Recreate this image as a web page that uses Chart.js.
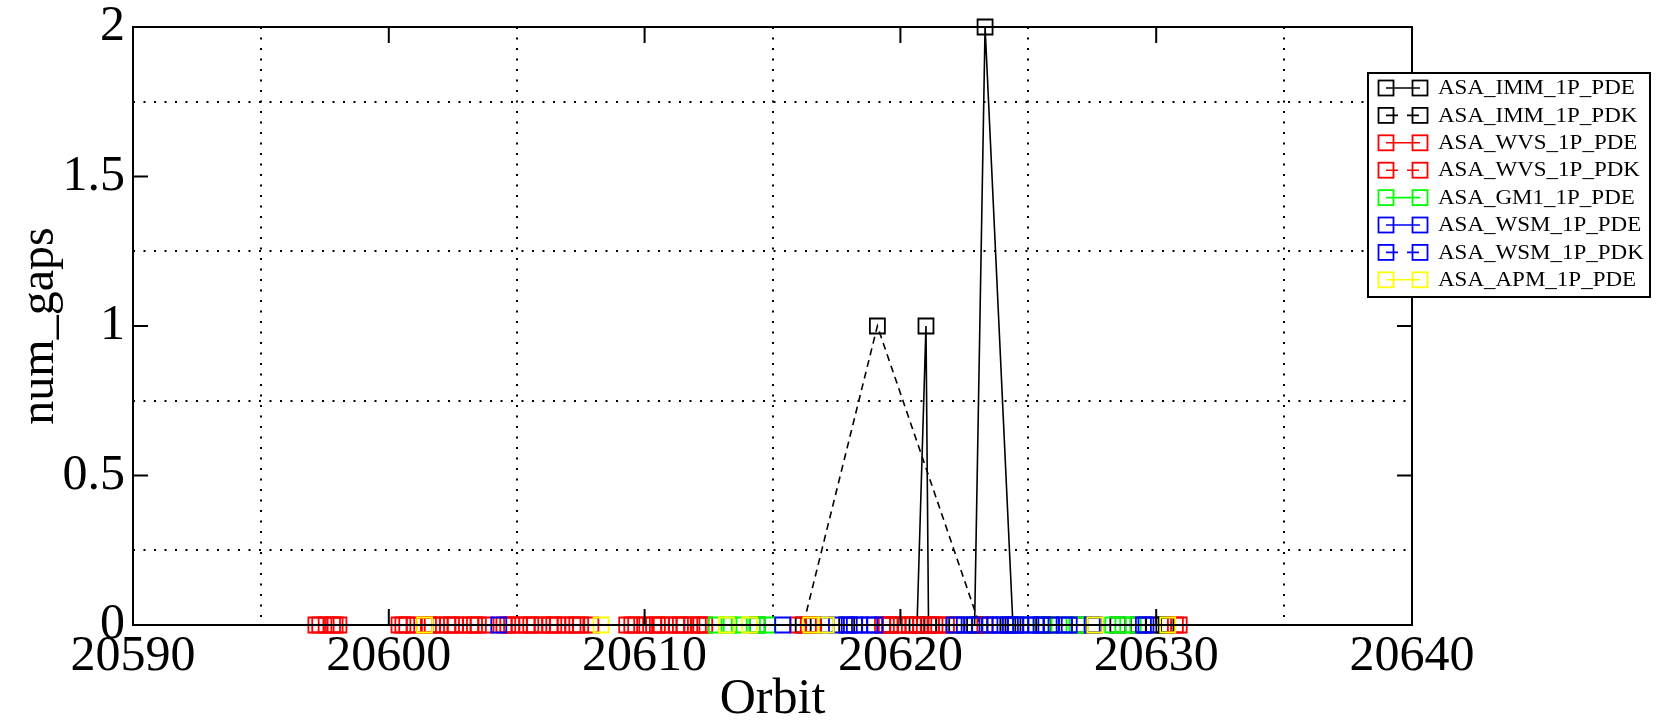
<!DOCTYPE html>
<html>
<head>
<meta charset="utf-8">
<script src="https://cdn.jsdelivr.net/npm/chart.js@4.4.1/dist/chart.umd.min.js"></script>
<style>
  html, body { margin: 0; padding: 0; background: #fff; }
</style>
</head>
<body>
<canvas id="chart" width="1664" height="724"></canvas>
<script>
// axis ranges
const xMin = 20590, xMax = 20640;
const yMin = 0, yMax = 2;

const seriesNames = ['ASA_IMM_1P_PDE', 'ASA_IMM_1P_PDK', 'ASA_WVS_1P_PDE', 'ASA_WVS_1P_PDK',
    'ASA_GM1_1P_PDE', 'ASA_WSM_1P_PDE', 'ASA_WSM_1P_PDK', 'ASA_APM_1P_PDE'];
const seriesColors = ['#000000', '#000000', '#ff0000', '#ff0000', '#00ff00', '#0000ff', '#0000ff', '#ffff00'];
const seriesDashed = [false, true, false, true, false, false, true, false];

// [orbit, num_gaps]
const immPde = [[20616.6, 0], [20617.9, 0], [20619.6, 0], [20620.65, 0], [20621.0, 1], [20621.1, 0],
    [20622.2, 0], [20622.9, 0], [20623.31, 2], [20624.4, 0], [20625.6, 0], [20627.0, 0],
    [20628.5, 0], [20629.9, 0], [20630.4, 0]];
const immPdk = [[20614.4, 0], [20616.2, 0], [20619.1, 1], [20623.1, 0], [20624.2, 0], [20625.9, 0],
    [20627.6, 0], [20629.3, 0], [20630.3, 0]];
const wvsPde = [[20597.3, 0], [20597.55, 0], [20597.8, 0], [20598.05, 0],
    [20600.4, 0], [20600.7, 0], [20601.0, 0], [20601.4, 0], [20601.7, 0], [20602.0, 0], [20602.3, 0],
    [20602.6, 0], [20602.9, 0], [20603.2, 0], [20603.5, 0], [20603.8, 0], [20604.5, 0], [20604.8, 0],
    [20605.1, 0], [20605.4, 0], [20605.7, 0], [20606.0, 0], [20606.3, 0], [20606.6, 0], [20606.9, 0],
    [20607.2, 0], [20607.5, 0], [20607.9, 0],
    [20609.3, 0], [20609.65, 0], [20610.0, 0], [20610.35, 0], [20610.65, 0], [20610.95, 0],
    [20611.25, 0], [20611.55, 0], [20611.85, 0], [20612.1, 0], [20612.35, 0],
    [20616.0, 0], [20616.4, 0], [20619.3, 0], [20619.6, 0], [20619.9, 0], [20620.2, 0], [20620.5, 0],
    [20620.8, 0], [20621.2, 0], [20621.5, 0], [20621.8, 0], [20623.3, 0], [20630.9, 0]];
const wvsPdk = [[20597.15, 0], [20597.9, 0], [20600.55, 0], [20601.55, 0], [20602.45, 0], [20603.35, 0],
    [20604.65, 0], [20605.55, 0], [20606.45, 0], [20607.35, 0], [20609.5, 0], [20610.5, 0],
    [20611.4, 0], [20612.2, 0], [20616.6, 0], [20619.45, 0], [20620.35, 0], [20621.35, 0], [20630.75, 0]];
const gm1Pde = [[20612.8, 0], [20613.3, 0], [20613.7, 0], [20614.4, 0], [20614.8, 0], [20624.7, 0],
    [20625.5, 0], [20626.2, 0], [20626.9, 0], [20628.3, 0], [20628.7, 0], [20629.1, 0]];
const wsmPde = [[20604.3, 0], [20615.4, 0], [20617.5, 0], [20618.0, 0], [20618.4, 0], [20618.8, 0],
    [20622.1, 0], [20622.5, 0], [20623.5, 0], [20623.9, 0], [20624.3, 0], [20624.7, 0], [20625.1, 0],
    [20625.5, 0], [20625.9, 0], [20626.4, 0], [20627.5, 0], [20629.5, 0]];
const wsmPdk = [[20617.1, 0], [20618.2, 0], [20619.0, 0], [20622.8, 0], [20623.7, 0], [20624.5, 0],
    [20625.3, 0], [20626.6, 0], [20629.6, 0]];
const apmPde = [[20601.4, 0], [20608.3, 0], [20613.2, 0], [20614.1, 0], [20616.5, 0], [20617.1, 0],
    [20627.6, 0], [20630.45, 0]];

const seriesData = [immPde, immPdk, wvsPde, wvsPdk, gm1Pde, wsmPde, wsmPdk, apmPde];

const SERIF = '"Liberation Serif", "DejaVu Serif", serif';
const MARK = 10.6;

const datasets = seriesData.map((pts, i) => ({
    label: seriesNames[i],
    data: pts.map(p => ({ x: p[0], y: p[1] })),
    showLine: true,
    borderColor: seriesColors[i],
    borderWidth: 1.6,
    borderDash: seriesDashed[i] ? [7, 5] : [],
    pointStyle: 'rect',
    pointRadius: MARK,
    pointBorderWidth: 1.8,
    pointBorderColor: seriesColors[i],
    pointBackgroundColor: 'rgba(0,0,0,0)',
    clip: false,
    order: -i   // later sets drawn on top, like the original
}));

// frame, inward ticks and the legend box
const framePlugin = {
    id: 'frame',
    afterDatasetsDraw(chart) {
        const { ctx, chartArea: a, scales } = chart;
        ctx.save();
        ctx.strokeStyle = '#000';
        ctx.lineWidth = 2;
        ctx.setLineDash([]);
        ctx.strokeRect(a.left, a.top, a.right - a.left, a.bottom - a.top);
        ctx.beginPath();
        [20600, 20610, 20620, 20630].forEach(v => {
            const x = scales.x.getPixelForValue(v);
            ctx.moveTo(x, a.bottom); ctx.lineTo(x, a.bottom - 16);
            ctx.moveTo(x, a.top); ctx.lineTo(x, a.top + 16);
        });
        [0.5, 1, 1.5].forEach(v => {
            const y = scales.y.getPixelForValue(v);
            ctx.moveTo(a.left, y); ctx.lineTo(a.left + 15, y);
            ctx.moveTo(a.right, y); ctx.lineTo(a.right - 15, y);
        });
        ctx.stroke();
        ctx.restore();
    },
    afterDraw(chart) {
        const ctx = chart.ctx;
        const bx = 1368, by = 73, bw = 282, bh = 224;
        ctx.save();
        ctx.fillStyle = '#fff';
        ctx.fillRect(bx, by, bw, bh);
        ctx.strokeStyle = '#000';
        ctx.lineWidth = 2;
        ctx.strokeRect(bx, by, bw, bh);
        ctx.font = '20px ' + SERIF;
        ctx.textBaseline = 'middle';
        const s = MARK * Math.SQRT1_2;
        seriesNames.forEach((name, i) => {
            const y = 88 + i * 27.4;
            const x1 = 1386, x2 = 1420;
            ctx.strokeStyle = seriesColors[i];
            ctx.lineWidth = 1.6;
            ctx.setLineDash(seriesDashed[i] ? [12, 9] : []);
            ctx.beginPath(); ctx.moveTo(x1, y); ctx.lineTo(x2, y); ctx.stroke();
            ctx.setLineDash([]);
            ctx.lineWidth = 1.8;
            ctx.strokeRect(x1 - s, y - s, 2 * s, 2 * s);
            ctx.strokeRect(x2 - s, y - s, 2 * s, 2 * s);
            ctx.fillStyle = '#000';
            ctx.save();
            ctx.translate(1438, y);
            ctx.scale(1.15, 1);
            ctx.fillText(name, 0, 1);
            ctx.restore();
        });
        ctx.restore();
    }
};

new Chart(document.getElementById('chart'), {
    type: 'scatter',
    data: { datasets },
    options: {
        responsive: false,
        animation: false,
        devicePixelRatio: 1,
        layout: { padding: { left: 0, right: 252, top: 27, bottom: 0 } },
        plugins: { legend: { display: false }, tooltip: { enabled: false } },
        scales: {
            x: {
                type: 'linear',
                min: xMin, max: xMax,
                afterFit: s => { s.height = 99; s.paddingLeft = 0; s.paddingRight = 0; },
                ticks: {
                    stepSize: 5, autoSkip: false, maxRotation: 0, padding: 2,
                    color: '#000', font: { family: SERIF, size: 50 },
                    callback: v => (v % 10 === 0 ? String(v) : '')
                },
                grid: {
                    drawTicks: false, lineWidth: 2,
                    color: c => (c.tick && c.tick.value % 10 === 5 ? '#000' : 'rgba(0,0,0,0)')
                },
                border: { display: false, dash: [2, 8.5] },
                title: { display: true, text: 'Orbit', color: '#000', font: { family: SERIF, size: 50 }, padding: { top: -6, bottom: -6 } }
            },
            y: {
                min: yMin, max: yMax,
                afterFit: s => { s.width = 133; s.paddingTop = 0; s.paddingBottom = 0; },
                ticks: {
                    stepSize: 0.25, autoSkip: false, padding: 8,
                    color: '#000', font: { family: SERIF, size: 50 },
                    callback: v => (v % 0.5 === 0 ? String(v) : '')
                },
                grid: {
                    drawTicks: false, lineWidth: 2,
                    color: c => (c.tick && c.tick.value % 0.5 !== 0 ? '#000' : 'rgba(0,0,0,0)')
                },
                border: { display: false, dash: [2, 8.5] },
                title: { display: true, text: 'num_gaps', color: '#000', font: { family: SERIF, size: 48 }, padding: { top: 12, bottom: 0 } }
            }
        }
    },
    plugins: [framePlugin]
});
</script>
</body>
</html>
